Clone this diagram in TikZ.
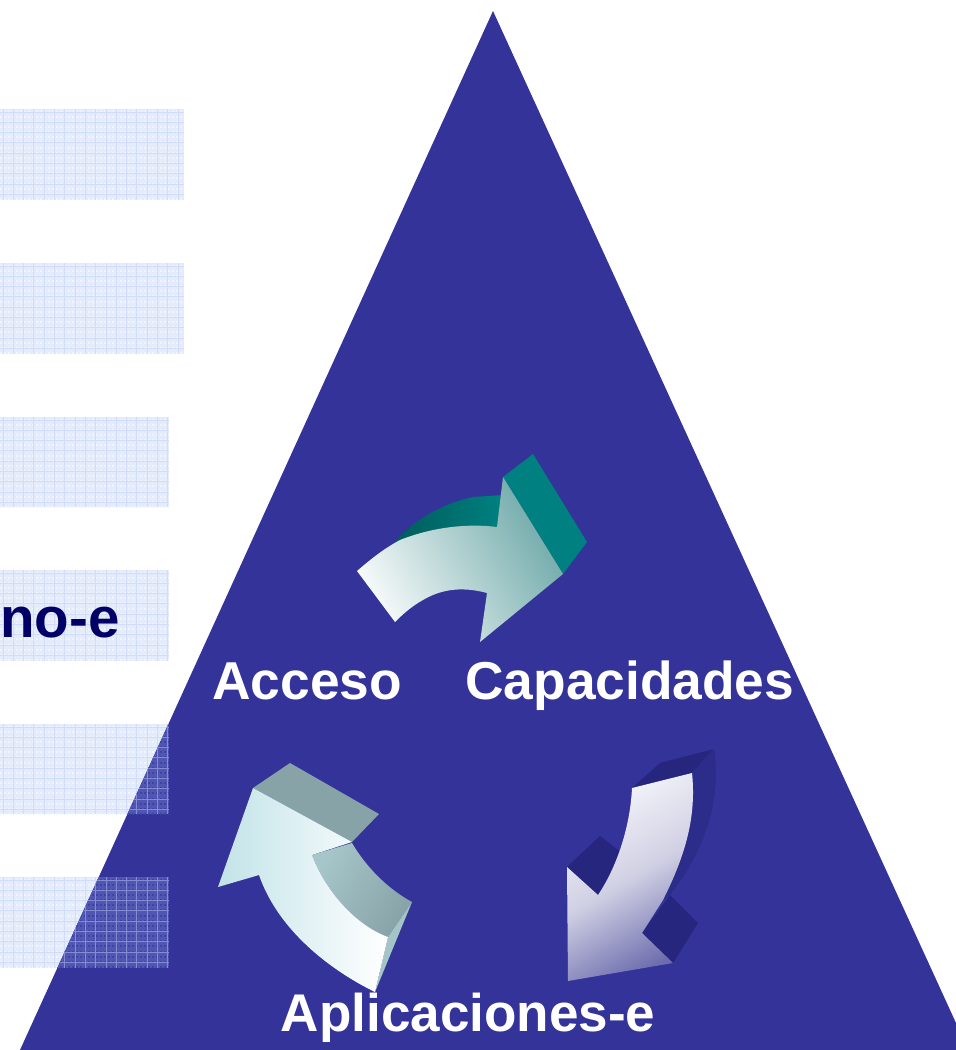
\documentclass[tikz,border=0pt]{standalone}
\usepackage{fontspec}
\setmainfont{Liberation Sans}
\definecolor{tri}{HTML}{333399}
\definecolor{barA}{HTML}{E4ECFC}
\definecolor{barB}{HTML}{D0DCFA}
\definecolor{barC}{HTML}{F0F4FE}
\definecolor{darkA}{HTML}{5056B2}
\definecolor{darkB}{HTML}{868CD2}
\definecolor{darkC}{HTML}{3D44A4}
\definecolor{tealA}{HTML}{008080}
\definecolor{tealB}{HTML}{005C5C}
\definecolor{tealC}{HTML}{6FA9A9}
\definecolor{tealD}{HTML}{F7FAFA}
\definecolor{navyA}{HTML}{26267F}
\definecolor{navyB}{HTML}{2C2C8A}
\definecolor{lilaA}{HTML}{F6F6FB}
\definecolor{lilaM}{HTML}{D0D0E4}
\definecolor{lilaB}{HTML}{6C6CAE}
\definecolor{greyA}{HTML}{88A3A8}
\definecolor{greyB}{HTML}{A6C6C9}
\definecolor{greyC}{HTML}{A4C5C8}
\definecolor{iceA}{HTML}{C2E3E8}
\definecolor{inkA}{HTML}{000066}
\tikzset{
  label text/.style={inner sep=0pt,anchor=base west,font=\fontsize{40}{44}\selectfont\bfseries,text=white},
}
% #1 right edge, #2 top, #3 bottom, #4 fill, #5 lines, #6 fine
\newcommand{\hatchbar}[6]{%
  \fill[#4] (0,#2) rectangle (#1,#3);
  \begin{scope}
    \clip (0,#2) rectangle (#1,#3);
    \foreach \k in {0,...,18} {
      \draw[#6,line width=1.5pt,dash pattern=on 1.5pt off 1.5pt] (0,#2+\k*5.15+2.5) -- (#1,#2+\k*5.15+2.5);
    }
    \foreach \k in {0,...,18} {
      \draw[#5,line width=.75pt] (3+\k*10.3,#2) -- (3+\k*10.3,#3);
      \draw[#5,line width=.75pt] (0,#2+3+\k*10.3) -- (#1,#2+3+\k*10.3);
    }
  \end{scope}}
\newcommand{\allbars}[3]{%
  \hatchbar{184}{109}{200}{#1}{#2}{#3}
  \hatchbar{184}{263}{354}{#1}{#2}{#3}
  \hatchbar{169}{417}{507}{#1}{#2}{#3}
  \hatchbar{169}{570}{661}{#1}{#2}{#3}
  \hatchbar{169}{724}{814}{#1}{#2}{#3}
  \hatchbar{169}{877}{968}{#1}{#2}{#3}}
\begin{document}
\begin{tikzpicture}[x=0.75pt,y=-0.75pt]
\useasboundingbox (0,0) rectangle (956,1050);
\fill[white] (0,0) rectangle (956,1050);
\allbars{barA}{barB}{barC}
% triangle
\fill[tri] (493,11) -- (20,1050) -- (956,1050) -- (956,1023) -- cycle;
\begin{scope}
  \clip (493,11) -- (20,1050) -- (956,1050) -- (956,1023) -- cycle;
  \allbars{darkA}{darkB}{darkC}
\end{scope}
% top arrow
\shade[top color=tealA,bottom color=tealB,shading angle=-90]
  (395,542) .. controls (415,518) and (445,503) .. (473,497) -- (502,495) -- (497,535) -- (420,560) -- cycle;
\fill[tealA] (503,477) -- (533,454) -- (587,542) -- (563,574) -- cycle;
\shade[top color=tealC,bottom color=tealD,shading angle=-60]
  (357,571) .. controls (372,558) and (385,548) .. (400,540) .. controls (430,528) and (465,523) .. (497,527)
  -- (503,477) -- (563,574) -- (480,642) -- (487,593) .. controls (465,587) and (443,588) .. (423,600)
  .. controls (412,606) and (403,614) .. (395,622) -- cycle;
% right arrow
\fill[navyA] (632,788) -- (660,763) -- (714,749) -- (692,773) -- cycle;
\fill[navyB] (692,773) -- (714,749) .. controls (722,800) and (705,850) .. (670,895) -- (663,900)
  .. controls (683,860) and (697,820) .. (692,773) -- cycle;
\fill[navyA] (567,867) -- (600,836) -- (622,853) -- (598,895) -- cycle;
\fill[navyA] (670,895) -- (698,923) -- (673,963) -- (642,933) -- cycle;
\shade[top color=lilaA,bottom color=lilaB,middle color=lilaM,shading angle=30]
  (632,788) -- (692,773) .. controls (697,820) and (683,860) .. (663,900) -- (642,933) -- (673,963)
  -- (568,981) -- (567,867) -- (598,895) .. controls (615,870) and (630,830) .. (632,788) -- cycle;
% left arrow
\fill[greyA] (253,788) -- (290,763) -- (379,814) -- (352,842) -- cycle;
\shade[top color=greyB,bottom color=greyA,shading angle=60]
  (312,855) -- (352,843) .. controls (368,870) and (390,890) .. (412,902) -- (388,937)
  .. controls (355,925) and (325,890) .. (312,855) -- cycle;
\fill[greyC] (388,937) -- (412,902) -- (375,992) -- cycle;
\shade[top color=white,bottom color=iceA,shading angle=-90]
  (253,788) -- (352,842) -- (312,855) .. controls (325,890) and (355,925) .. (388,937) -- (375,992)
  .. controls (330,970) and (278,930) .. (259,875) -- (218,887) -- cycle;
% labels
\node[label text] (acc) at (212,699) {Acceso};
\node[label text] (cap) at (465,699) {Capacidades};
\node[label text,font=\fontsize{39.8}{44}\selectfont\bfseries] (apl) at (280.5,1031) {Aplicaciones-e};
\node[label text,anchor=base east,text=inkA,font=\fontsize{42.4}{44}\selectfont\bfseries] (no) at (120,637) {no-e};
\end{tikzpicture}
\end{document}
